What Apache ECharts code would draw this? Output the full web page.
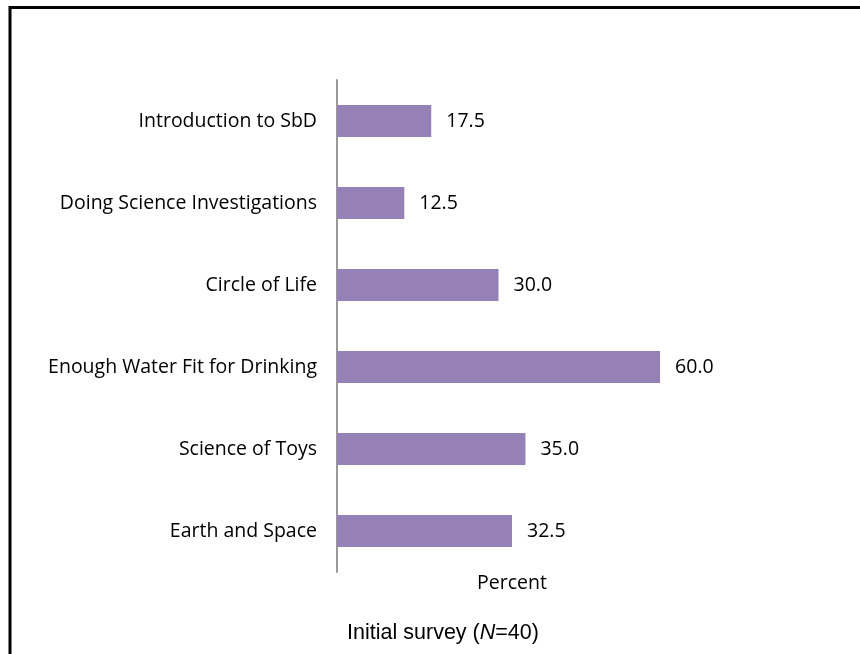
<!DOCTYPE html>
<html><head><meta charset="utf-8">
<script src="https://cdn.jsdelivr.net/npm/echarts@6/dist/echarts.min.js"></script>
<style>html,body{margin:0;padding:0;background:#fff}#c{width:860px;height:654px}</style>
</head><body><div id="c"></div>
<script>
const categories = ["Earth and Space","Science of Toys","Enough Water Fit for Drinking","Circle of Life","Doing Science Investigations","Introduction to SbD"];
const values = [32.5, 35.0, 60.0, 30.0, 12.5, 17.5];
const axisName = "Percent";

const chart = echarts.init(document.getElementById('c'));
chart.setOption({
  animation: false,
  backgroundColor: '#fff',
  grid: {left: 337, top: 80, width: 350, height: 492},
  xAxis: {type: 'value', min: 0, max: 65, show: true,
    axisLine: {show: false}, axisTick: {show: false}, axisLabel: {show: false}, splitLine: {show: false},
    name: axisName, nameLocation: 'middle', nameGap: 1,
    nameTextStyle: {fontFamily: 'Open Sans', fontSize: 19.5, color: '#000'}},
  yAxis: {type: 'category', data: categories,
    axisLine: {show: true, lineStyle: {color: '#999', width: 2}},
    axisTick: {show: false},
    axisLabel: {margin: 20, fontFamily: 'Open Sans', fontSize: 19.5, color: '#000'}},
  series: [{type: 'bar', data: values, barWidth: 32,
    itemStyle: {color: '#9581b5'},
    label: {show: true, position: 'right', distance: 15, fontFamily: 'Open Sans', fontSize: 19.5, color: '#000',
      formatter: p => p.value.toFixed(1)}}],
  graphic: [
    {type: 'rect', shape: {x: 10, y: 7.5, width: 900, height: 700}, style: {fill: 'none', stroke: '#000', lineWidth: 3}},
    {type: 'text', x: 443, y: 633, style: {
      text: '{a|Initial survey (}{b|N}{a|=40)}', align: 'center', verticalAlign: 'middle',
      rich: {a: {fontFamily: 'Liberation Sans', fontSize: 21.5, fill: '#000'}, b: {fontFamily: 'Liberation Sans', fontSize: 21.5, fontStyle: 'italic', fill: '#000'}}
    }}
  ]
});
</script></body></html>
